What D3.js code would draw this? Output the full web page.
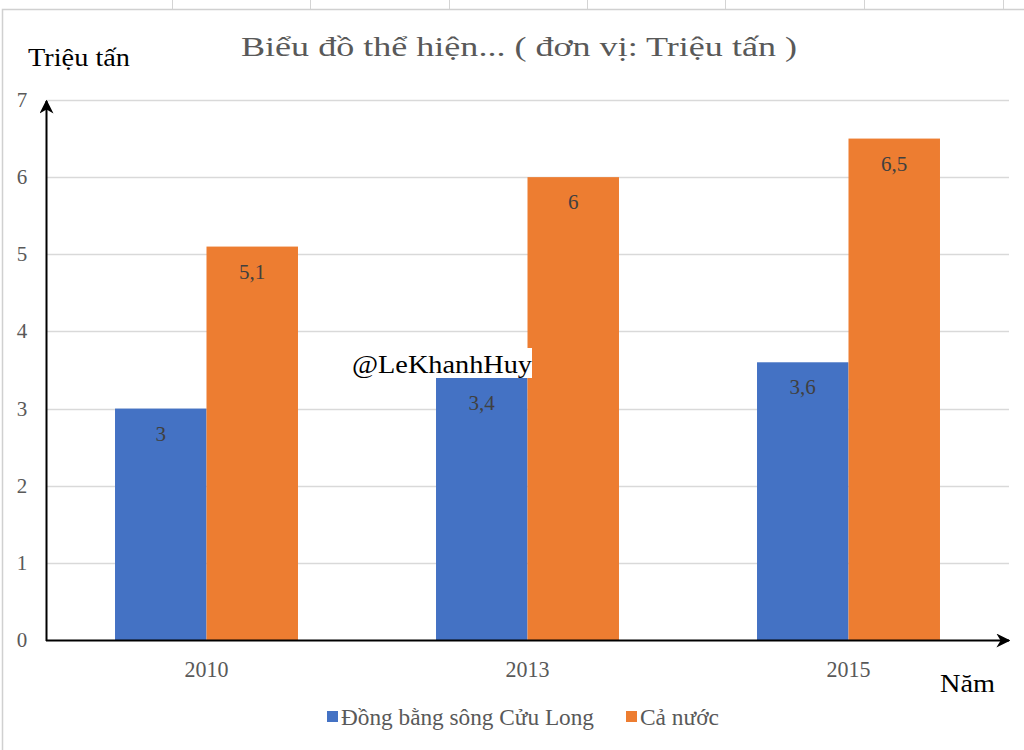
<!DOCTYPE html>
<html>
<head>
<meta charset="utf-8">
<script src="https://cdn.jsdelivr.net/npm/d3@7"></script>
<style>
  html, body { margin: 0; padding: 0; background: #fff; }
</style>
</head>
<body>
<script>
const width = 1024;
const height = 750;
const serif = "'Liberation Serif', 'Times New Roman', Tinos, 'DejaVu Serif', serif";

// data
const years = ["2010", "2013", "2015"];
const seriesNames = ["Đồng bằng sông Cửu Long", "Cả nước"];
const dbscl = [3, 3.4, 3.6];
const caNuoc = [5.1, 6, 6.5];
const yTicks = [0, 1, 2, 3, 4, 5, 6, 7];
const colors = ["#4472C4", "#ED7D31"];

const svg = d3.select("body")
  .append("svg")
  .attr("width", width)
  .attr("height", height)
  .style("display", "block");

// squeeze text to a given width (the original picture is horizontally condensed)
function fit(sel, w) {
  return sel.attr("textLength", w).attr("lengthAdjust", "spacingAndGlyphs");
}

const defs = svg.append("defs");
defs.append("marker")
  .attr("id", "arrow")
  .attr("viewBox", "0 0 10 10")
  .attr("refX", 9).attr("refY", 5)
  .attr("markerWidth", 7).attr("markerHeight", 7)
  .attr("orient", "auto")
  .append("path")
  .attr("d", "M0,0 L10,5 L0,10 L3,5 Z")
  .attr("fill", "#000");

// spreadsheet grid strip at top + chart frame
const strip = svg.append("g");
[172, 310, 449, 587, 725, 864, 1003].forEach(x => {
  strip.append("line").attr("x1", x + 0.5).attr("x2", x + 0.5)
    .attr("y1", 0).attr("y2", 9).attr("stroke", "#d4d4d4");
});
svg.append("rect")
  .attr("x", 2.5).attr("y", 9.5)
  .attr("width", 1040).attr("height", 760)
  .attr("fill", "#fff").attr("stroke", "#d0d0d0").attr("stroke-width", 1.5);

const margin = { left: 46, right: 1009, top: 100, bottom: 640 };

const x = d3.scaleBand()
  .domain(years)
  .range([margin.left, margin.right])
  .paddingInner(0.43)
  .paddingOuter(0.215);

const xSub = d3.scaleBand()
  .domain(seriesNames)
  .range([0, x.bandwidth()]);

const y = d3.scaleLinear()
  .domain([0, 7])
  .range([margin.bottom, margin.top]);

// gridlines
svg.append("g")
  .selectAll("line")
  .data(yTicks.filter(d => d > 0))
  .join("line")
  .attr("x1", margin.left).attr("x2", margin.right)
  .attr("y1", d => Math.round(y(d)) + 0.5)
  .attr("y2", d => Math.round(y(d)) + 0.5)
  .attr("stroke", "#d9d9d9").attr("stroke-width", 1.5);

// y tick labels
svg.append("g")
  .selectAll("text")
  .data(yTicks)
  .join("text")
  .attr("x", 22)
  .attr("y", d => y(d) + 7)
  .attr("text-anchor", "middle")
  .attr("fill", "#595959")
  .attr("font-size", 21)
  .text(d => d);

// bars
const rows = years.map((yr, i) => ({ year: yr, values: [dbscl[i], caNuoc[i]] }));
const groups = svg.append("g")
  .selectAll("g")
  .data(rows)
  .join("g")
  .attr("transform", d => `translate(${x(d.year)},0)`);

groups.selectAll("rect")
  .data(d => d.values.map((v, j) => ({ name: seriesNames[j], v, j })))
  .join("rect")
  .attr("x", d => xSub(d.name))
  .attr("y", d => y(d.v))
  .attr("width", xSub.bandwidth())
  .attr("height", d => y(0) - y(d.v))
  .attr("fill", d => colors[d.j]);

groups.selectAll("text")
  .data(d => d.values.map((v, j) => ({ name: seriesNames[j], v, j })))
  .join("text")
  .attr("x", d => xSub(d.name) + xSub.bandwidth() / 2)
  .attr("y", d => y(d.v) + 32)
  .attr("text-anchor", "middle")
  .attr("fill", "#404040")
  .attr("font-size", 21)
  .text(d => String(d.v).replace(".", ","));

// x category labels
svg.append("g")
  .selectAll("text")
  .data(years)
  .join("text")
  .attr("x", d => x(d) + x.bandwidth() / 2)
  .attr("y", 677)
  .attr("text-anchor", "middle")
  .attr("fill", "#595959")
  .attr("font-size", 23)
  .call(fit, 44)
  .text(d => d);

// axes with arrows
svg.append("line")
  .attr("x1", margin.left).attr("y1", margin.bottom + 0.5)
  .attr("x2", margin.right).attr("y2", margin.bottom + 0.5)
  .attr("stroke", "#000").attr("stroke-width", 2)
  .attr("marker-end", "url(#arrow)");
svg.append("line")
  .attr("x1", margin.left + 0.5).attr("y1", margin.bottom + 1)
  .attr("x2", margin.left + 0.5).attr("y2", 101)
  .attr("stroke", "#000").attr("stroke-width", 2)
  .attr("marker-end", "url(#arrow)");

// title and axis names
svg.append("text")
  .attr("x", 241).attr("y", 56)
  .attr("fill", "#595959")
  .attr("font-size", 28)
  .call(fit, 556)
  .text("Biểu đồ thể hiện... ( đơn vị: Triệu tấn )");

svg.append("text")
  .attr("x", 28).attr("y", 66)
  .attr("fill", "#000")
  .attr("font-size", 26)
  .call(fit, 102)
  .text("Triệu tấn");

svg.append("text")
  .attr("x", 940).attr("y", 692)
  .attr("fill", "#000")
  .attr("font-size", 26)
  .call(fit, 55)
  .text("Năm");

// watermark
svg.append("rect")
  .attr("x", 350).attr("y", 348).attr("width", 182).attr("height", 30)
  .attr("fill", "#fff");
svg.append("text")
  .attr("x", 352).attr("y", 373)
  .attr("fill", "#000")
  .attr("font-size", 26)
  .call(fit, 180)
  .text("@LeKhanhHuy");

// legend
const legend = svg.append("g");
const legendX = [327, 626];
const legendW = [253, 79];
seriesNames.forEach((name, i) => {
  legend.append("rect")
    .attr("x", legendX[i]).attr("y", 711)
    .attr("width", 11).attr("height", 11)
    .attr("fill", colors[i]);
  legend.append("text")
    .attr("x", legendX[i] + 14).attr("y", 725)
    .attr("fill", "#595959")
    .attr("font-size", 24)
    .call(fit, legendW[i])
    .text(name);
});

svg.selectAll("text").style("font-family", serif);
</script>
</body>
</html>
